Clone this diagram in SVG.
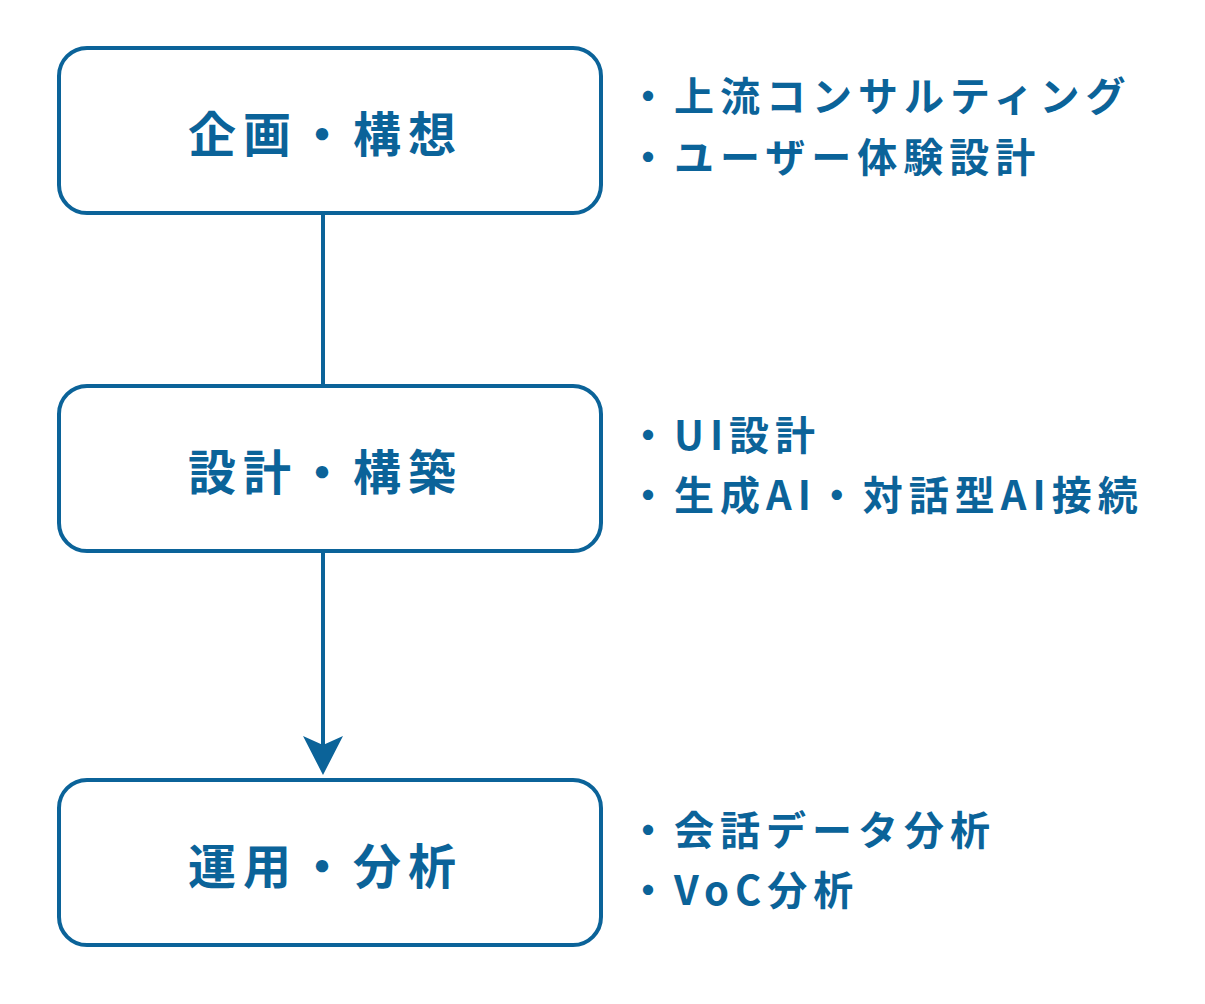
<svg xmlns="http://www.w3.org/2000/svg" width="1205" height="1004" viewBox="0 0 1205 1004">
<style>
.box{fill:#fff;stroke:#0b6399;stroke-width:4}
.nt{font-family:"Noto Sans CJK JP","Noto Sans",sans-serif;font-weight:bold;font-size:48px;letter-spacing:7px;fill:#0b6399}
.st{font-family:"Noto Sans CJK JP","Noto Sans",sans-serif;font-weight:bold;font-size:40px;letter-spacing:6px;fill:#0b6399}
.ln{stroke:#0b6399;stroke-width:4;fill:none}
</style>
<rect width="1205" height="1004" fill="#fff"/>
<g id="connectors">
<line class="ln" x1="323" y1="213" x2="323" y2="386"/>
<line class="ln" x1="323" y1="551" x2="323" y2="745"/>
<path d="M303,736 L323,775 L343,736 L323,745 Z" fill="#0b6399"/>
</g>
<g id="node1">
<rect class="box" x="59" y="48" width="542" height="165" rx="28"/>
<text class="nt" x="188" y="152">企画・構想</text>
</g>
<g id="node2">
<rect class="box" x="59" y="386" width="542" height="165" rx="28"/>
<text class="nt" x="188" y="490">設計・構築</text>
</g>
<g id="node3">
<rect class="box" x="59" y="780" width="542" height="165" rx="28"/>
<text class="nt" x="188" y="884">運用・分析</text>
</g>
<g id="notes1">
<text class="st" x="628" y="111">・上流コンサルティング</text>
<text class="st" x="628" y="172">・ユーザー体験設計</text>
</g>
<g id="notes2">
<text class="st" x="628" y="450">・UI設計</text>
<text class="st" x="628" y="510">・生成AI・対話型AI接続</text>
</g>
<g id="notes3">
<text class="st" x="628" y="845">・会話データ分析</text>
<text class="st" x="628" y="905">・VoC分析</text>
</g>
</svg>
